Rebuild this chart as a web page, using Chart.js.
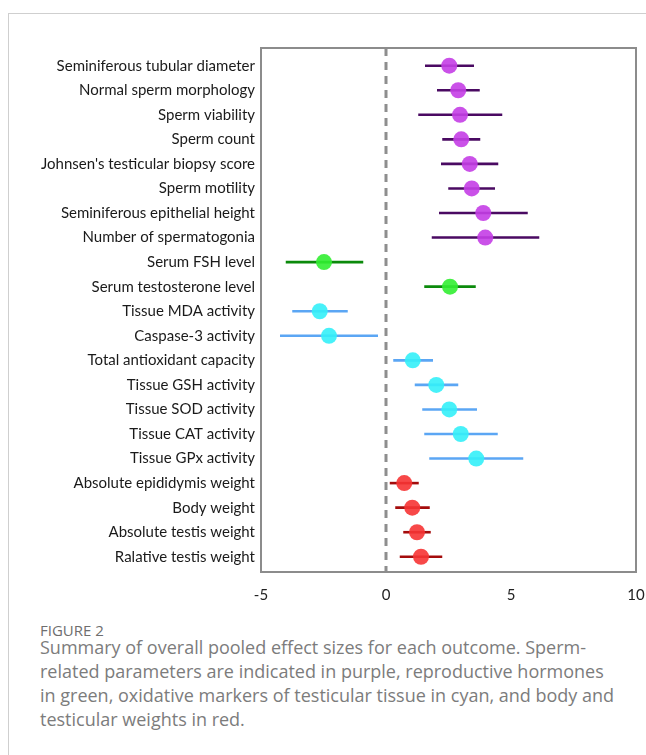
<!DOCTYPE html>
<html>
<head>
<meta charset="utf-8">
<script src="https://cdn.jsdelivr.net/npm/chart.js@4.4.1/dist/chart.umd.min.js"></script>
<style>
  html, body { margin: 0; padding: 0; background: #fff; }
  body { width: 646px; height: 755px; position: relative; overflow: hidden; font-family: Lato, "Open Sans", sans-serif; }
  .frame { position: absolute; left: 8px; top: 13px; width: 700px; height: 800px; border: 1px solid #cfcfcf; box-sizing: border-box; }
  .plot { position: absolute; left: 0; top: 0; width: 646px; height: 610px; }
  .fig { position: absolute; left: 40px; top: 620px; font-family: "Open Sans"; font-size: 15px; color: #6e6e6e; }
  .cap { position: absolute; left: 40px; top: 635px; font-family: "Open Sans"; font-size: 18px; line-height: 24px; color: #7c7c7c; font-weight: 400; }
</style>
</head>
<body>
<div class="frame"></div>
<div class="plot"><canvas id="c" width="646" height="610"></canvas></div>
<div class="fig">FIGURE 2</div>
<div class="cap">Summary of overall pooled effect sizes for each outcome. Sperm-<br>related parameters are indicated in purple, reproductive hormones<br>in green, oxidative markers of testicular tissue in cyan, and body and<br>testicular weights in red.</div>
<script>
// Outcomes, top to bottom
const outcomes = [
  "Seminiferous tubular diameter",
  "Normal sperm morphology",
  "Sperm viability",
  "Sperm count",
  "Johnsen's testicular biopsy score",
  "Sperm motility",
  "Seminiferous epithelial height",
  "Number of spermatogonia",
  "Serum FSH level",
  "Serum testosterone level",
  "Tissue MDA activity",
  "Caspase-3 activity",
  "Total antioxidant capacity",
  "Tissue GSH activity",
  "Tissue SOD activity",
  "Tissue CAT activity",
  "Tissue GPx activity",
  "Absolute epididymis weight",
  "Body weight",
  "Absolute testis weight",
  "Ralative testis weight"
];
// Pooled effect size and 95% CI bounds
const effect = [2.53, 2.89, 2.96, 3.01, 3.35, 3.43, 3.89, 3.97, -2.48, 2.56, -2.65, -2.28, 1.07, 2.01, 2.53, 2.99, 3.61, 0.73, 1.05, 1.24, 1.40];
const lower  = [1.56, 2.04, 1.29, 2.25, 2.20, 2.49, 2.12, 1.83, -4.01, 1.53, -3.75, -4.24, 0.29, 1.15, 1.45, 1.53, 1.73, 0.15, 0.37, 0.69, 0.55];
const upper  = [3.52, 3.75, 4.65, 3.77, 4.49, 4.36, 5.67, 6.13, -0.91, 3.59, -1.53, -0.32, 1.88, 2.89, 3.64, 4.47, 5.49, 1.31, 1.75, 1.79, 2.25];
// Outcome group for each row
const group  = ["sperm","sperm","sperm","sperm","sperm","sperm","sperm","sperm","hormone","hormone","oxidative","oxidative","oxidative","oxidative","oxidative","oxidative","oxidative","weight","weight","weight","weight"];
const xTicks = [-5, 0, 5, 10];

const palette = {
  sperm:     { point: "rgba(196,62,230,0.9)",  line: "#4a0a62" },
  hormone:   { point: "rgba(50,238,50,0.9)",   line: "#0b8a0b" },
  oxidative: { point: "rgba(52,240,248,0.9)",  line: "#5ba6f4" },
  weight:    { point: "rgba(246,52,52,0.9)",   line: "#a40c0c" }
};

const Y_MIN = 0.28, Y_MAX = 21.62;

const datasets = [];
// confidence interval segments
outcomes.forEach((name, i) => {
  datasets.push({
    type: "line",
    data: [{ x: lower[i], y: i + 1 }, { x: upper[i], y: i + 1 }],
    borderColor: palette[group[i]].line,
    borderWidth: 2.6,
    pointRadius: 0,
    order: 2
  });
});
// effect size markers, one dataset per group
Object.keys(palette).forEach(g => {
  const pts = [];
  outcomes.forEach((name, i) => { if (group[i] === g) pts.push({ x: effect[i], y: i + 1 }); });
  datasets.push({
    type: "scatter",
    data: pts,
    pointRadius: 8,
    pointHoverRadius: 8,
    pointBackgroundColor: palette[g].point,
    pointBorderWidth: 0,
    order: 1
  });
});
// null-effect reference line
datasets.push({
  type: "line",
  data: [{ x: 0, y: Y_MIN }, { x: 0, y: Y_MAX }],
  borderColor: "#8e8e8e",
  borderWidth: 3,
  borderDash: [8, 6],
  pointRadius: 0,
  order: 3
});

const boxPlugin = {
  id: "box",
  afterDraw(chart) {
    const a = chart.chartArea, ctx = chart.ctx;
    ctx.save();
    ctx.strokeStyle = "#8c8c8c";
    ctx.lineWidth = 2;
    ctx.strokeRect(a.left, a.top, a.right - a.left, a.bottom - a.top);
    ctx.restore();
  }
};

new Chart(document.getElementById("c"), {
  type: "scatter",
  data: { datasets },
  options: {
    responsive: false,
    animation: false,
    events: [],
    layout: { padding: { left: 0, right: 10, top: 48, bottom: 0 } },
    plugins: { legend: { display: false }, tooltip: { enabled: false } },
    scales: {
      x: {
        type: "linear",
        min: -5, max: 10,
        afterBuildTicks: s => { s.ticks = xTicks.map(v => ({ value: v })); },
        afterFit: s => { s.height = 38; s.paddingLeft = 0; s.paddingRight = 0; },
        grid: { display: false, drawTicks: false },
        border: { display: false },
        ticks: { color: "#222", font: { family: "Lato", size: 15 }, padding: 14, maxRotation: 0 }
      },
      y: {
        type: "linear",
        reverse: true,
        min: Y_MIN, max: Y_MAX,
        afterBuildTicks: s => { s.ticks = outcomes.map((n, i) => ({ value: i + 1 })); },
        afterFit: s => { s.width = 261; s.paddingTop = 0; s.paddingBottom = 0; },
        grid: { display: false, drawTicks: false },
        border: { display: false },
        ticks: {
          color: "#1a1a1a",
          font: { family: "Lato", size: 15 },
          padding: 6,
          autoSkip: false,
          callback: v => outcomes[Math.round(v) - 1]
        }
      }
    }
  },
  plugins: [boxPlugin]
});
</script>
</body>
</html>
